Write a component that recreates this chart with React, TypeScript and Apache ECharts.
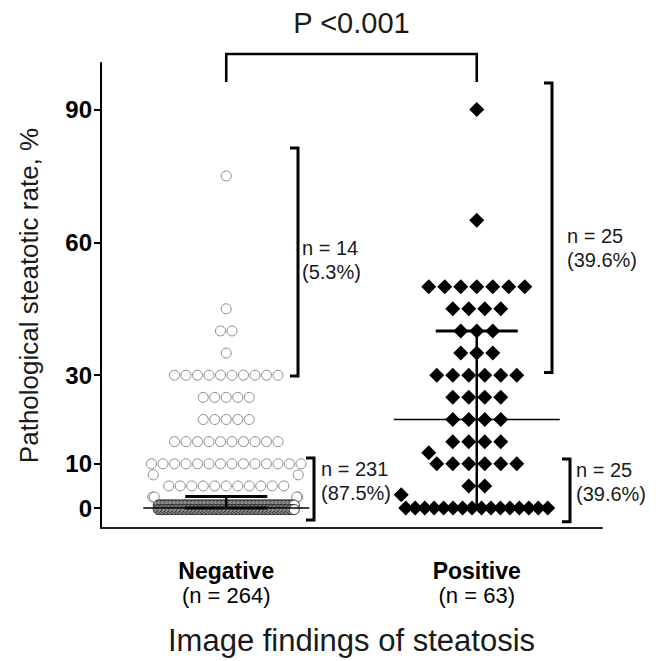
import React, { useEffect, useRef } from "react";
import * as echarts from "echarts";

// ---------- data ----------
const groups = ["Negative", "Positive"];
const groupN = [264, 63];

// Negative group: value levels and number of dots at each level
const negLevels = [75, 45, 40, 35, 30, 25, 20, 15, 10, 5, 0];
const negCounts = [1, 1, 2, 1, 10, 5, 5, 10, 14, 11, 202];
// single points displaced to the column edges
const negEdgeValues = [7.5, 7.5, 2.5, 2.5, 2.5, 2.5];

// Positive group
const posLevels = [90, 65, 50, 45, 40, 35, 30, 25, 20, 15, 10, 5, 0];
const posCounts = [1, 1, 7, 4, 3, 3, 6, 4, 4, 4, 6, 2, 16];
const posEdgeValues = [12.5, 3];

// median with interquartile range
const medians = [0, 20];
const q1 = [0, 0];
const q3 = [2.6, 40];

const yTicks = [0, 10, 30, 60, 90];

// brackets: [from, to] in axis values, label
const bracketRanges = [
  [29.8, 81.3],
  [-2.7, 11.3],
  [30.6, 96.0],
  [-3.1, 11.1],
];
const bracketLabels = [
  ["n = 14", "(5.3%)"],
  ["n = 231", "(87.5%)"],
  ["n = 25", "(39.6%)"],
  ["n = 25", "(39.6%)"],
];
const pValueText = "P <0.001";

// ---------- layout (pixels) ----------
const FONT = "'Liberation Sans', Arial, sans-serif";
const GRID = { left: 101, top: 63, width: 501, height: 465 };
const X_MAX = 4; // hidden value axis 0..4, groups at 1 and 3
const PX_PER_X = GRID.width / X_MAX;
const groupX = [1, 3];
const negLayout = { spacing: 11.5, maxSpan: 150, bandSpan: 136, maxPerRow: 101, rowOffsets: [-3, 1.5] };
const posLayout = { spacing: 16, maxSpan: 142, bandSpan: 142, maxPerRow: 1000, rowOffsets: [0] };
const negEdgeOffsets = [-73, 72, -73.5, 71.5, -72, 70.5];
const posEdgeOffsets = [-48, -75.5];
const bracketX = [298, 314, 552, 570];
const labelPos = [
  [302, 260],
  [321, 481],
  [567, 248],
  [576, 482],
];

type Pt = { x: number; y: number; row: number };

function layout(
  levels: number[],
  counts: number[],
  cx: number,
  cfg: { spacing: number; maxSpan: number; bandSpan: number; maxPerRow: number; rowOffsets: number[] }
): Pt[] {
  const pts: Pt[] = [];
  levels.forEach((v, li) => {
    const total = counts[li];
    const nRows = Math.ceil(total / cfg.maxPerRow);
    const span = nRows > 1 ? cfg.bandSpan : cfg.maxSpan;
    let placed = 0;
    for (let r = 0; r < nRows; r++) {
      const n = Math.min(cfg.maxPerRow, Math.ceil((total - placed) / (nRows - r)));
      const sp = n > 1 ? Math.min(cfg.spacing, span / (n - 1)) : 0;
      for (let i = 0; i < n; i++) {
        const off = (i - (n - 1) / 2) * sp;
        pts.push({ x: cx + off / PX_PER_X, y: v, row: nRows > 1 ? r : -1 });
      }
      placed += n;
    }
  });
  return pts;
}

export default function App() {
  const ref = useRef<HTMLDivElement>(null);
  useEffect(() => {
    if (!ref.current) return;
    const chart = echarts.init(ref.current, null, { renderer: "svg" });

    const negPts = layout(negLevels, negCounts, groupX[0], negLayout);
    negEdgeValues.forEach((v, i) =>
      negPts.push({ x: groupX[0] + negEdgeOffsets[i] / PX_PER_X, y: v, row: -1 })
    );
    const posPts = layout(posLevels, posCounts, groupX[1], posLayout);
    posEdgeValues.forEach((v, i) =>
      posPts.push({ x: groupX[1] + posEdgeOffsets[i] / PX_PER_X, y: v, row: -1 })
    );

    const circleBase = {
      type: "scatter",
      xAxisIndex: 1,
      yAxisIndex: 0,
      symbol: "circle",
      symbolSize: 10,
      z: 2,
      silent: true,
    };
    const negSeries: any[] = [
      {
        ...circleBase,
        itemStyle: { color: "#ffffff", borderColor: "#8a8a8a", borderWidth: 1, opacity: 1 },
        data: negPts.filter((p) => p.row === -1).map((p) => [p.x, p.y]),
      },
      ...negLayout.rowOffsets.map((off, r) => ({
        ...circleBase,
        symbolOffset: [0, off],
        itemStyle: { color: "#ffffff", borderColor: "#2a2a2a", borderWidth: 1, opacity: 1 },
        data: negPts.filter((p) => p.row === r).map((p) => [p.x, p.y]),
      })),
    ];
    const posSeries = {
      type: "scatter",
      xAxisIndex: 1,
      yAxisIndex: 0,
      symbol: "diamond",
      symbolSize: 15,
      itemStyle: { color: "#000000", opacity: 1 },
      data: posPts.map((p) => [p.x, p.y]),
      z: 3,
      silent: true,
    };

    const statSeries = {
      type: "custom",
      xAxisIndex: 1,
      yAxisIndex: 0,
      z: 5,
      silent: true,
      data: groupX.map((x, i) => [x, medians[i], q1[i], q3[i]]),
      renderItem: (_params: any, api: any) => {
        const x = api.value(0);
        const m = api.coord([x, api.value(1)]);
        const lo = api.coord([x, api.value(2)]);
        const hi = api.coord([x, api.value(3)]);
        const st = (w: number) => ({ stroke: "#000", lineWidth: w, fill: null });
        return {
          type: "group",
          children: [
            { type: "line", shape: { x1: m[0] - 83, y1: m[1], x2: m[0] + 83, y2: m[1] }, style: st(1.5) },
            { type: "line", shape: { x1: lo[0], y1: lo[1], x2: hi[0], y2: hi[1] }, style: st(2.5) },
            { type: "line", shape: { x1: hi[0] - 41, y1: hi[1], x2: hi[0] + 41, y2: hi[1] }, style: st(3) },
            { type: "line", shape: { x1: lo[0] - 41, y1: lo[1], x2: lo[0] + 41, y2: lo[1] }, style: st(3) },
          ],
        };
      },
    };

    chart.setOption({
      animation: false,
      backgroundColor: "#ffffff",
      grid: { ...GRID },
      xAxis: [
        {
          type: "category",
          data: groups,
          boundaryGap: true,
          axisLine: { show: true, onZero: false, lineStyle: { color: "#222", width: 2 } },
          axisTick: { show: false },
          axisLabel: {
            interval: 0,
            margin: 30,
            formatter: (v: string) => {
              const i = groups.indexOf(v);
              return `{b|${v}}\n{n|(n = ${groupN[i]})}`;
            },
            rich: {
              b: { fontFamily: FONT, fontWeight: "bold", fontSize: 23, lineHeight: 25, color: "#000" },
              n: { fontFamily: FONT, fontSize: 22, lineHeight: 25, color: "#000" },
            },
          },
          splitLine: { show: false },
          name: "Image findings of steatosis",
          nameLocation: "middle",
          nameGap: 97,
          nameTextStyle: { fontFamily: FONT, fontSize: 31, color: "#1a1a1a" },
        },
        {
          type: "value",
          min: 0,
          max: X_MAX,
          show: false,
        },
      ],
      yAxis: {
        type: "value",
        min: -4.5,
        max: 100.5,
        axisLine: { show: true, lineStyle: { color: "#000", width: 2 } },
        axisTick: { show: true, customValues: yTicks, length: 7, lineStyle: { color: "#000", width: 2 } },
        axisLabel: {
          customValues: yTicks,
          fontFamily: FONT,
          fontWeight: "bold",
          fontSize: 24,
          color: "#000",
          margin: 9,
        },
        splitLine: { show: false },
        name: "Pathological steatotic rate, %",
        nameLocation: "middle",
        nameGap: 59,
        nameTextStyle: { fontFamily: FONT, fontSize: 26, color: "#1a1a1a" },
      },
      series: [...negSeries, posSeries, statSeries],
    });

    const yPx = (v: number) => chart.convertToPixel({ yAxisIndex: 0 }, v) as number;
    const xPx = (v: number) => chart.convertToPixel({ xAxisIndex: 1 }, v) as number;

    const graphics: any[] = [];
    // significance bracket
    const gx0 = xPx(groupX[0]);
    const gx1 = xPx(groupX[1]);
    graphics.push({
      type: "polyline",
      shape: { points: [[gx0, 82], [gx0, 54], [gx1, 54], [gx1, 82]] },
      style: { stroke: "#000", lineWidth: 2.6, fill: null },
      z: 10,
    });
    graphics.push({
      type: "text",
      x: (gx0 + gx1) / 2,
      y: 23,
      style: {
        text: pValueText,
        fontFamily: FONT,
        fontSize: 29,
        fill: "#1a1a1a",
        align: "center",
        verticalAlign: "middle",
      },
      z: 10,
    });
    bracketRanges.forEach((r, i) => {
      const bx = bracketX[i];
      const yTop = yPx(r[1]);
      const yBot = yPx(r[0]);
      graphics.push({
        type: "polyline",
        shape: { points: [[bx - 8, yTop], [bx, yTop], [bx, yBot], [bx - 8, yBot]] },
        style: { stroke: "#000", lineWidth: 3, fill: null },
        z: 10,
      });
      graphics.push({
        type: "text",
        x: labelPos[i][0],
        y: labelPos[i][1],
        style: {
          text: bracketLabels[i].join("\n"),
          fontFamily: FONT,
          fontSize: 20,
          lineHeight: 24,
          fill: "#1a1a1a",
          align: "left",
          verticalAlign: "middle",
        },
        z: 10,
      });
    });
    chart.setOption({ graphic: graphics });

    return () => chart.dispose();
  }, []);

  return (
    <div
      ref={ref}
      style={{ position: "fixed", left: 0, top: 0, width: 662, height: 661, background: "#fff" }}
    />
  );
}
